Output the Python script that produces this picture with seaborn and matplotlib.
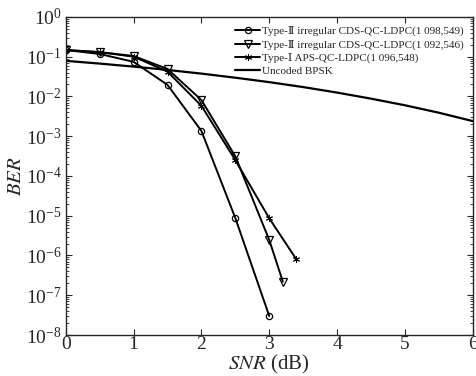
import math
import matplotlib
matplotlib.use("Agg")
import matplotlib.pyplot as plt
import matplotlib.ticker as mticker
import seaborn as sns
import pandas as pd

snr_circle = [0, 0.5, 1.0, 1.5, 2.0, 2.5, 3.0]
ber_circle = [0.147, 0.117, 0.074, 0.0195, 1.35e-3, 8.7e-6, 3.0e-8]

snr_tri = [0, 0.5, 1.0, 1.5, 2.0, 2.5, 3.0, 3.2]
ber_tri = [0.147, 0.13, 0.104, 0.049, 8.1e-3, 3.1e-4, 2.45e-6, 2.2e-7]

snr_star = [0, 0.5, 1.0, 1.5, 2.0, 2.5, 3.0, 3.4]
ber_star = [0.147, 0.13, 0.10, 0.042, 5.8e-3, 2.5e-4, 8.6e-6, 8.0e-7]

snr_bpsk = [0, 0.5, 1.0, 1.5, 2.0, 2.5, 3.0, 3.5, 4.0, 4.5, 5.0, 5.5, 6.0]
ber_bpsk = [0.0786, 0.067, 0.0563, 0.0464, 0.0375, 0.0296, 0.0229, 0.0172,
            0.0125, 0.0088, 0.0060, 0.0039, 0.0024]

labels = ["Type-\u2161 irregular CDS-QC-LDPC(1 098,549)",
          "Type-\u2161 irregular CDS-QC-LDPC(1 092,546)",
          "Type-\u2160 APS-QC-LDPC(1 096,548)",
          "Uncoded BPSK"]

sns.set_style("ticks")
plt.rcParams['font.family'] = ['Liberation Serif', 'DejaVu Serif']
plt.rcParams['mathtext.fontset'] = 'stix'

fig = plt.figure(figsize=(4.77, 3.76), dpi=100)
ax = fig.add_axes([0.138, 0.109, 0.853, 0.846])

series = [
    (snr_circle, ber_circle, 'o', labels[0], 4.5, 0.9),
    (snr_tri, ber_tri, 'v', labels[1], 5.5, 0.9),
    (snr_star, ber_star, (6, 2, 0), labels[2], 5.0, 0.7),
]
for x, y, m, lab, ms, mew in series:
    df = pd.DataFrame({"SNR": x, "BER": y})
    sns.lineplot(data=df, x="SNR", y="BER", ax=ax, color='black', lw=1.4,
                 marker=m, markersize=ms, markerfacecolor='none',
                 markeredgecolor='black', markeredgewidth=mew, label=lab)
df = pd.DataFrame({"SNR": snr_bpsk, "BER": ber_bpsk})
sns.lineplot(data=df, x="SNR", y="BER", ax=ax, color='black', lw=1.6, label=labels[3])

ax.set_yscale('log')
ax.set_xlim(0, 6)
ax.set_ylim(1e-8, 1)
ax.set_xticks([0, 1, 2, 3, 4, 5, 6])
ax.yaxis.set_major_locator(mticker.LogLocator(base=10, numticks=20))
ax.yaxis.set_minor_locator(mticker.LogLocator(base=10, subs=range(2, 10), numticks=100))
ax.yaxis.set_minor_formatter(mticker.NullFormatter())
ax.yaxis.set_major_formatter(mticker.FuncFormatter(
    lambda v, p: r"$\mathregular{10^{%d}}$" % round(math.log10(v))))
ax.tick_params(axis='both', which='both', direction='in', top=True, right=True)
ax.tick_params(axis='both', which='major', length=4, width=0.8, labelsize=14)
ax.tick_params(axis='x', which='major', pad=1)
ax.tick_params(axis='y', which='major', pad=3)
ax.tick_params(axis='y', which='minor', length=2, width=0.6)
for s in ax.spines.values():
    s.set_linewidth(1.0)

ax.set_xlabel(r"$SNR$ (dB)", fontsize=15, labelpad=0)
ax.set_ylabel(r"$BER$", fontsize=15, labelpad=0)

leg = ax.legend(loc='upper right', frameon=False, fontsize=8, handlelength=2.2,
                labelspacing=0.3, handletextpad=0.2, borderaxespad=0.4)

fig.savefig("out.png", dpi=100)
